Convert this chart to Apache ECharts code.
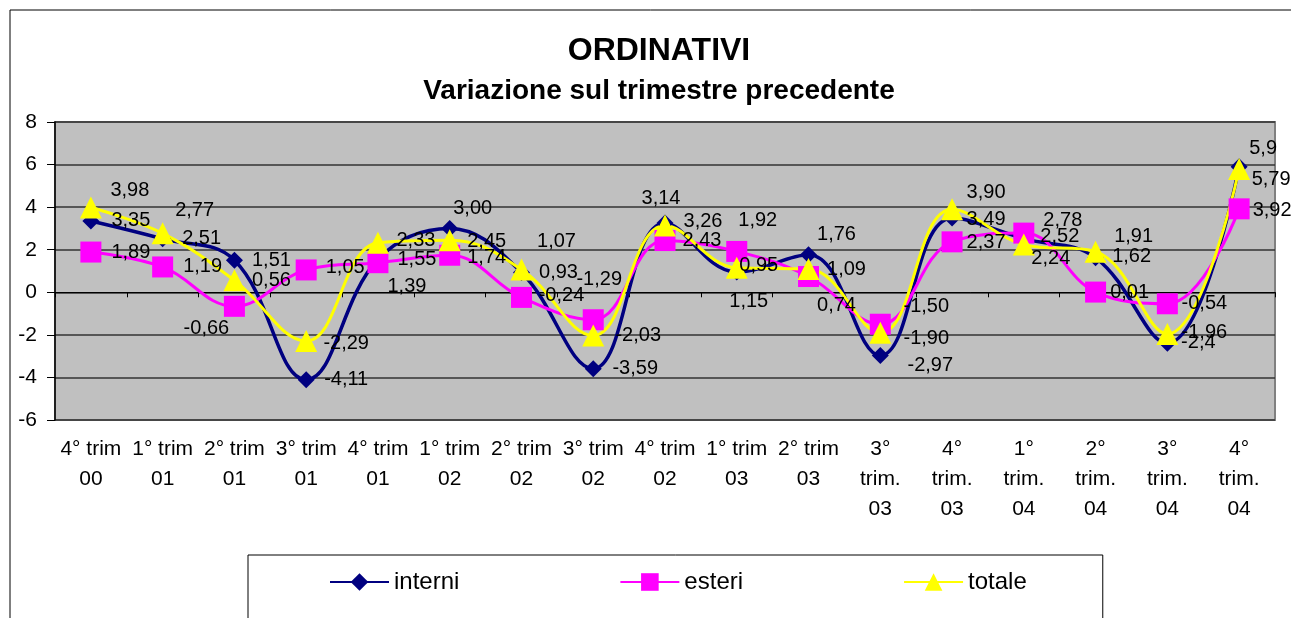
<!DOCTYPE html>
<html>
<head>
<meta charset="utf-8">
<script src="https://cdn.jsdelivr.net/npm/echarts@6/dist/echarts.min.js"></script>
<style>
  html, body { margin: 0; padding: 0; background: #fff; }
  #chart { width: 1291px; height: 618px; }
</style>
</head>
<body>
<div id="chart"></div>
<script>
// trimestri
const categorie = [
  '4° trim\n00', '1° trim\n01', '2° trim\n01', '3° trim\n01', '4° trim\n01',
  '1° trim\n02', '2° trim\n02', '3° trim\n02', '4° trim\n02', '1° trim\n03',
  '2° trim\n03', '3°\ntrim.\n03', '4°\ntrim.\n03', '1°\ntrim.\n04', '2°\ntrim.\n04',
  '3°\ntrim.\n04', '4°\ntrim.\n04'
]

// valori (stringhe per mantenere i decimali delle etichette)
const interni = ['3.35', '2.51', '1.51', '-4.11', '1.55', '3.00', '0.93', '-3.59', '3.26', '0.95', '1.76', '-2.97', '3.49', '2.52', '1.62', '-2.4', '5.9']
const esteri = ['1.89', '1.19', '-0.66', '1.05', '1.39', '1.74', '-0.24', '-1.29', '2.43', '1.92', '0.74', '-1.50', '2.37', '2.78', '0.01', '-0.54', '3.92']
const totale = ['3.98', '2.77', '0.56', '-2.29', '2.33', '2.45', '1.07', '-2.03', '3.14', '1.15', '1.09', '-1.90', '3.90', '2.24', '1.91', '-1.96', '5.79']

const yTicks = { min: -6, max: 8, interval: 2 }

// spostamento delle etichette rispetto al punto (come nel grafico originale)
const posInterni = [[40, 0], [39, 0], [37, 0], [40, 0], [39, 0], [23, -20], [37, 0], [42, 0], [38, -1], [22, -7], [28, -20], [50, 10], [34, 1], [36, -2], [36, -1], [31, -1], [24, -18]]
const posEsteri = [[40, 0], [40, 0], [-28, 22], [39, -2], [29, 24], [37, 2], [40, -2], [6, -40], [37, 0], [21, -31], [28, 29], [46, -18], [34, 1], [39, -13], [34, 0], [37, 0], [33, 2]]
const posTotale = [[39, -17], [32, -23], [37, 0], [40, 2], [38, -2], [37, 1], [35, -28], [45, 0], [-4, -27], [12, 34], [38, 0], [46, 6], [34, -17], [27, 14], [38, -15], [37, -2], [32, 10]]

const font = 'Liberation Sans, Arial, sans-serif'

function serie(name, values, pos, color, symbol, size, width) {
  return {
    name: name,
    type: 'line',
    xAxisIndex: 0,
    data: values.map((v, i) => ({
      value: Number(v),
      label: { offset: pos[i] }
    })),
    smooth: 0.4,
    symbol: symbol,
    symbolSize: size,
    lineStyle: { color: color, width: width },
    itemStyle: { color: color },
    label: {
      show: true,
      position: 'inside',
      color: '#000',
      textBorderWidth: 0,
      fontSize: 20,
      fontFamily: font,
      formatter: p => values[p.dataIndex].replace('.', ',')
    },
    emphasis: { disabled: true }
  }
}

const chart = echarts.init(document.getElementById('chart'))
chart.setOption({
  animation: false,
  backgroundColor: '#fff',
  graphic: [
    { type: 'line', shape: { x1: 10, y1: 10, x2: 1291, y2: 10 }, style: { stroke: '#000', lineWidth: 1 } },
    { type: 'line', shape: { x1: 10, y1: 10, x2: 10, y2: 618 }, style: { stroke: '#000', lineWidth: 1 } }
  ],
  title: {
    text: 'ORDINATIVI',
    subtext: 'Variazione sul trimestre precedente',
    left: 659,
    textAlign: 'center',
    top: 35,
    padding: 0,
    itemGap: 10,
    textStyle: { fontFamily: font, fontSize: 32, fontWeight: 'bold', color: '#000' },
    subtextStyle: { fontFamily: font, fontSize: 28, fontWeight: 'bold', color: '#000' }
  },
  grid: {
    left: 55, right: 16, top: 122, bottom: 198,
    show: true,
    backgroundColor: '#C0C0C0',
    borderColor: '#808080',
    borderWidth: 2
  },
  legend: {
    left: 248,
    top: 555,
    padding: [15, 76, 40, 81],
    itemGap: 160,
    itemWidth: 59,
    itemHeight: 22,
    borderColor: '#000',
    borderWidth: 1,
    textStyle: { fontFamily: font, fontSize: 24, color: '#000' },
    data: ['interni', 'esteri', 'totale']
  },
  xAxis: [
    {
      type: 'category',
      data: categorie,
      boundaryGap: true,
      axisLine: { show: false, onZero: false },
      axisTick: { show: false },
      axisLabel: { fontFamily: font, fontSize: 21, color: '#000', lineHeight: 30, margin: 14, interval: 0 }
    },
    {
      type: 'category',
      data: categorie,
      position: 'bottom',
      boundaryGap: true,
      axisLine: { show: true, onZero: true, lineStyle: { color: '#000', width: 1 } },
      axisTick: { show: true, length: 5, lineStyle: { color: '#000' } },
      axisLabel: { show: false }
    }
  ],
  yAxis: {
    type: 'value',
    min: yTicks.min,
    max: yTicks.max,
    interval: yTicks.interval,
    axisLine: { show: true, lineStyle: { color: '#000', width: 1.5 } },
    axisTick: { show: true, inside: false, length: 8, lineStyle: { color: '#000' } },
    axisLabel: { fontFamily: font, fontSize: 21, color: '#000', margin: 18 },
    splitLine: { show: true, lineStyle: { color: '#333', width: 1.5 } }
  },
  series: [
    serie('interni', interni, posInterni, '#000080', 'diamond', 17, 3.5),
    serie('esteri', esteri, posEsteri, '#FF00FF', 'rect', 21, 3),
    serie('totale', totale, posTotale, '#FFFF00', 'triangle', 22, 3)
  ]
})
</script>
</body>
</html>
